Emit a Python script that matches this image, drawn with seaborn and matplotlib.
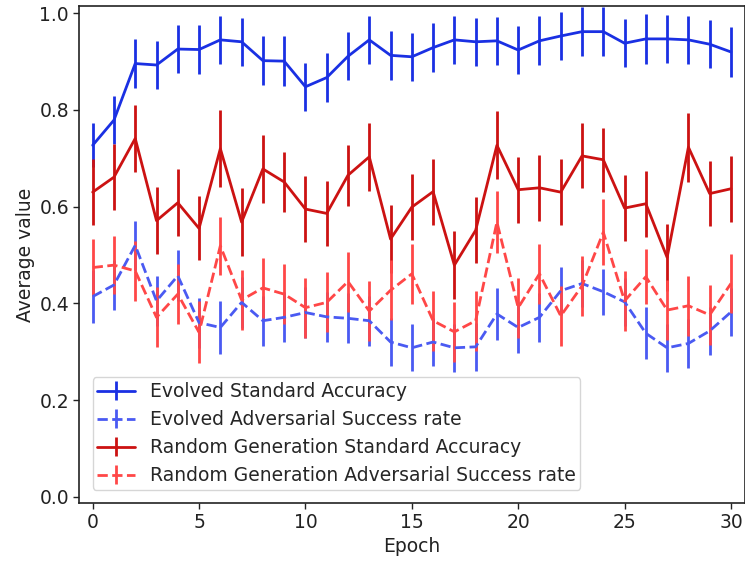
import numpy as np
import pandas as pd
import matplotlib
matplotlib.use("Agg")
import matplotlib.pyplot as plt
import seaborn as sns

# --- data ---
epochs = list(range(31))

evo_std = [0.727, 0.779, 0.896, 0.893, 0.926, 0.925, 0.945, 0.941, 0.902, 0.901,
           0.848, 0.867, 0.911, 0.945, 0.913, 0.910, 0.929, 0.945, 0.941, 0.943,
           0.924, 0.943, 0.953, 0.962, 0.962, 0.938, 0.947, 0.947, 0.945, 0.936, 0.920]
evo_std_err = [0.046, 0.050, 0.050, 0.050, 0.050, 0.050, 0.050, 0.050, 0.051, 0.051,
               0.050, 0.050, 0.050, 0.050, 0.051, 0.050, 0.051, 0.050, 0.050, 0.050,
               0.050, 0.051, 0.050, 0.050, 0.050, 0.050, 0.051, 0.050, 0.050, 0.050, 0.051]

evo_adv = [0.414, 0.438, 0.520, 0.405, 0.457, 0.360, 0.350, 0.402, 0.364, 0.371,
           0.381, 0.372, 0.369, 0.364, 0.320, 0.308, 0.320, 0.308, 0.310, 0.378,
           0.350, 0.371, 0.426, 0.441, 0.424, 0.403, 0.338, 0.308, 0.317, 0.343, 0.382]
evo_adv_err = [0.055, 0.052, 0.051, 0.052, 0.053, 0.052, 0.054, 0.052, 0.052, 0.052,
               0.052, 0.052, 0.052, 0.052, 0.050, 0.049, 0.050, 0.050, 0.050, 0.053,
               0.052, 0.050, 0.050, 0.049, 0.048, 0.050, 0.054, 0.050, 0.050, 0.050, 0.050]

rnd_std = [0.630, 0.661, 0.741, 0.571, 0.608, 0.555, 0.720, 0.568, 0.678, 0.651,
           0.595, 0.586, 0.665, 0.703, 0.533, 0.599, 0.631, 0.479, 0.551, 0.727,
           0.635, 0.639, 0.630, 0.705, 0.697, 0.597, 0.606, 0.495, 0.723, 0.627, 0.637]
rnd_std_err = [0.068, 0.068, 0.070, 0.069, 0.069, 0.066, 0.080, 0.070, 0.070, 0.062,
               0.068, 0.068, 0.063, 0.070, 0.070, 0.068, 0.068, 0.070, 0.068, 0.070,
               0.068, 0.068, 0.068, 0.067, 0.066, 0.068, 0.068, 0.070, 0.071, 0.068, 0.068]

rnd_adv = [0.474, 0.479, 0.467, 0.371, 0.419, 0.340, 0.519, 0.407, 0.432, 0.419,
           0.391, 0.402, 0.445, 0.384, 0.427, 0.461, 0.364, 0.341, 0.364, 0.568,
           0.391, 0.461, 0.374, 0.436, 0.547, 0.405, 0.455, 0.386, 0.395, 0.376, 0.441]
rnd_adv_err = [0.059, 0.060, 0.062, 0.062, 0.062, 0.064, 0.060, 0.062, 0.062, 0.062,
               0.062, 0.062, 0.062, 0.062, 0.062, 0.062, 0.062, 0.062, 0.062, 0.064,
               0.062, 0.062, 0.062, 0.062, 0.068, 0.062, 0.057, 0.062, 0.062, 0.062, 0.062]

series_names = ["Evolved Standard Accuracy",
                "Evolved Adversarial Success rate",
                "Random Generation Standard Accuracy",
                "Random Generation Adversarial Success rate"]
series_values = [evo_std, evo_adv, rnd_std, rnd_adv]
series_errors = [evo_std_err, evo_adv_err, rnd_std_err, rnd_adv_err]

# styling kept apart from the data
colors = ["#1a30e3", "#4a5af2", "#cc1212", "#ff4747"]
styles = ["-", "--", "-", "--"]

rows = []
for name, vals, errs in zip(series_names, series_values, series_errors):
    for e, v, s in zip(epochs, vals, errs):
        rows.append({"Epoch": e, "value": v, "err": s, "series": name})
df = pd.DataFrame(rows)

sns.set_style("ticks")
plt.rcParams['font.family'] = ['DejaVu Sans']
FS = 13.5

fig = plt.figure(figsize=(7.45, 5.63), dpi=100)
ax = fig.add_axes([0.1067, 0.1066, 0.8933, 0.8827])

for name, col, ls in zip(series_names, colors, styles):
    sub = df[df["series"] == name]
    ax.errorbar(sub["Epoch"], sub["value"], yerr=sub["err"], color=col,
                linestyle=ls, linewidth=2.0, elinewidth=2.0, capsize=0, label=name)

ax.set_xlim(-0.62, 30.66)
ax.set_ylim(-0.013, 1.015)
ax.set_xticks([0, 5, 10, 15, 20, 25, 30])
ax.set_yticks([0.0, 0.2, 0.4, 0.6, 0.8, 1.0])
ax.set_yticklabels(["0.0", "0.2", "0.4", "0.6", "0.8", "1.0"])
ax.tick_params(labelsize=FS, length=4, width=1, colors="#222222")
for sp in ax.spines.values():
    sp.set_color("#222222")
    sp.set_linewidth(1.2)
ax.set_xlabel("Epoch", fontsize=FS, color="#222222", labelpad=3)
ax.set_ylabel("Average value", fontsize=FS, color="#222222", labelpad=3)

leg = ax.legend(loc="lower left", fontsize=FS, frameon=True, framealpha=0.8,
                fancybox=True, borderaxespad=0.7, labelspacing=0.48,
                handlelength=2.0, borderpad=0.25)
leg.get_frame().set_edgecolor("#cccccc")

fig.savefig("out.png", dpi=100)
